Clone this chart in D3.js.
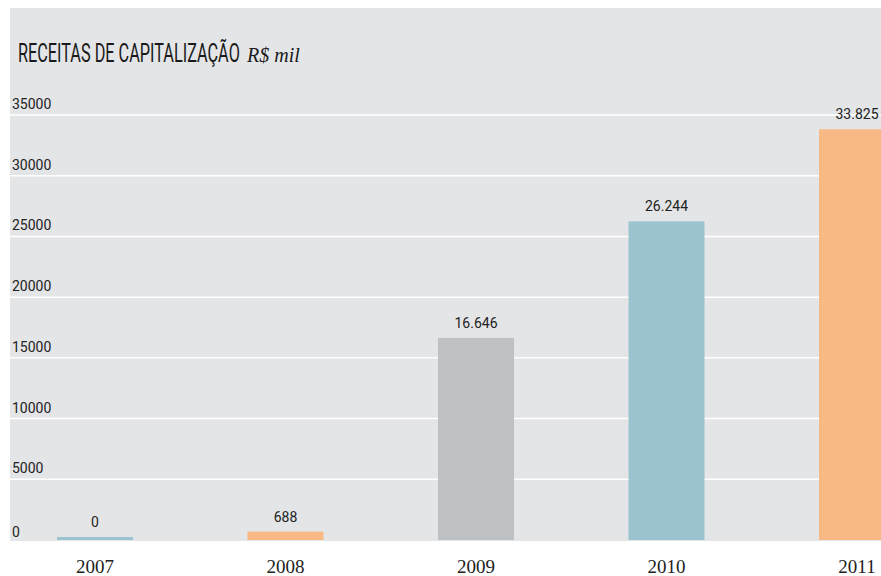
<!DOCTYPE html>
<html>
<head>
<meta charset="utf-8">
<script src="https://cdn.jsdelivr.net/npm/d3@7"></script>
<style>
  html, body { margin: 0; padding: 0; background: #ffffff; }
  svg { display: block; }
</style>
</head>
<body>
<div id="chart"></div>
<script>
/*------------------- Data --------------------*/
const years = ["2007", "2008", "2009", "2010", "2011"];
const values = [0, 688, 16646, 26244, 33825];
const barColors = ["#9bc3d0", "#f8b985", "#bdc1c4", "#9bc3d0", "#f8b985"];
const yTicks = [0, 5000, 10000, 15000, 20000, 25000, 30000, 35000];

/*------------------- Window setting --------------------*/
const width = 881, height = 576;

const svg = d3.select("#chart").append("svg")
    .attr("width", width)
    .attr("height", height);

// grey panel
svg.append("rect")
    .attr("x", 10).attr("y", 8)
    .attr("width", width - 10).attr("height", 533)
    .attr("fill", "#e4e5e7");

/*------------------- Scales --------------------*/
const y = d3.scaleLinear().domain([0, 35000]).range([540, 115]);
const x = d3.scalePoint().domain(years).range([95, 857]);
const barW = 76;

const ptBR = d3.formatLocale({ decimal: ",", thousands: ".", grouping: [3], currency: ["R$", ""] });
const fmt = ptBR.format(",d");

/*------------------- Grid + y labels --------------------*/
svg.selectAll("line.grid")
    .data(yTicks.filter(d => d > 0))
    .join("line")
    .attr("class", "grid")
    .attr("x1", 10).attr("x2", width)
    .attr("y1", d => y(d)).attr("y2", d => y(d))
    .attr("stroke", "#ffffff")
    .attr("stroke-width", 1.5);

svg.selectAll("text.ytick")
    .data(yTicks)
    .join("text")
    .attr("class", "ytick")
    .attr("x", 12)
    .attr("y", d => y(d) - (d === 0 ? 3 : 6))
    .attr("font-family", "Roboto, 'DejaVu Sans', sans-serif")
    .attr("font-size", 14)
    .attr("fill", "#222")
    .text(d => d);

/*------------------- Bars --------------------*/
svg.selectAll("rect.bar")
    .data(values)
    .join("rect")
    .attr("class", "bar")
    .attr("x", (d, i) => x(years[i]) - barW / 2)
    .attr("width", barW)
    .attr("y", d => Math.min(y(d), y(0) - 3))
    .attr("height", d => Math.max(y(0) - y(d), 3))
    .attr("fill", (d, i) => barColors[i]);

svg.selectAll("text.val")
    .data(values)
    .join("text")
    .attr("class", "val")
    .attr("x", (d, i) => x(years[i]))
    .attr("y", d => Math.min(y(d), y(0) - 3) - 10)
    .attr("text-anchor", "middle")
    .attr("font-family", "Roboto, 'DejaVu Sans', sans-serif")
    .attr("font-size", 14)
    .attr("fill", "#222")
    .text(d => fmt(d));

/*------------------- X labels --------------------*/
svg.selectAll("text.year")
    .data(years)
    .join("text")
    .attr("class", "year")
    .attr("x", d => x(d))
    .attr("y", 573)
    .attr("text-anchor", "middle")
    .attr("font-family", "'Liberation Serif', 'DejaVu Serif', serif")
    .attr("font-size", 19)
    .attr("fill", "#222")
    .text(d => d);

/*------------------- Title --------------------*/
// condensed look: squeeze a regular font horizontally to the reference width
const titleG = svg.append("g");
const titleText = titleG.append("text")
    .attr("x", 0)
    .attr("y", 0)
    .attr("fill", "#1a1a1a")
    .attr("font-family", "Roboto, 'DejaVu Sans', sans-serif")
    .attr("font-weight", 400)
    .attr("font-size", 25)
    .text("RECEITAS DE CAPITALIZAÇÃO");
const natural = titleText.node().getComputedTextLength();
titleG.attr("transform", `translate(18,62) scale(${222 / natural},1)`);

svg.append("text")
    .attr("x", 247)
    .attr("y", 62)
    .attr("fill", "#1a1a1a")
    .attr("font-family", "'Liberation Serif', 'DejaVu Serif', serif")
    .attr("font-style", "italic")
    .attr("font-size", 20)
    .text("R$ mil");
</script>
</body>
</html>
